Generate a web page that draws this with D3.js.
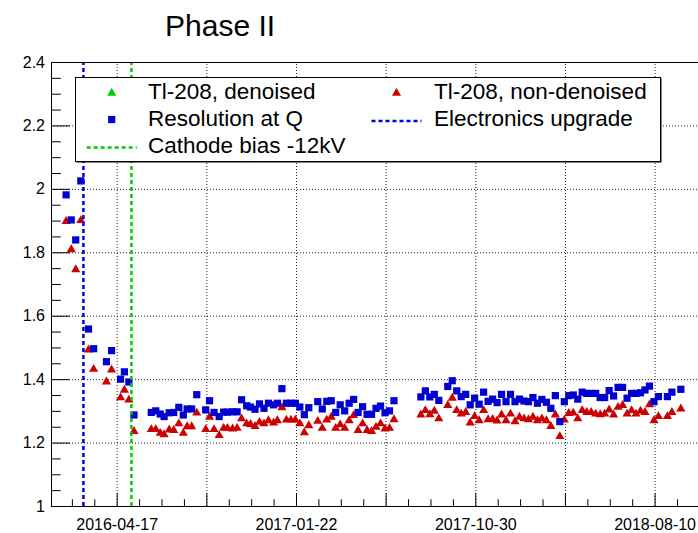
<!DOCTYPE html>
<html>
<head>
<meta charset="utf-8">
<script src="https://cdn.jsdelivr.net/npm/d3@7"></script>
<style>
  body { margin: 0; background: #fff; }
  svg { display: block; font-family: "Liberation Sans", Arial, Helvetica, sans-serif; }
</style>
</head>
<body>
<svg id="chart" width="698" height="533"></svg>
<script>
// Measurement day, counted in days from 2016-04-17
const day = [
  -79, -71, -64, -56, -44, -36, -16, -8, 6, 12, 19, 27,
  54, 61, 68, 74, 82, 89, 97, 104, 110, 117, 125,
  139, 145, 152, 160, 167, 173, 181, 188, 195, 203, 209, 216, 223, 230, 237, 245, 251, 258, 265, 272, 279, 286, 293, 300,
  314, 321, 328, 335, 342, 349, 356, 363, 370, 377, 384, 391, 398, 405, 412, 419, 426, 433,
  475, 482, 489, 496, 503,
  517, 524, 531, 538, 545, 552, 559, 566, 573, 580, 587, 594, 601, 608, 615, 622, 629, 636, 643, 650,
  657, 664, 671, 678, 685, 692, 699, 706, 713, 720, 727, 734, 741, 748, 755, 762, 769, 776, 783, 790,
  797, 804, 811, 818, 825, 832, 839, 846,
  860, 867, 881
];

// Resolution at Q (blue squares)
const resolutionAtQ = [
  1.981, 1.902, 1.839, 2.025, 1.558, 1.496, 1.455, 1.490, 1.400, 1.423, 1.391, 1.287,
  1.295, 1.300, 1.290, 1.282, 1.294, 1.295, 1.311, 1.287, 1.306, 1.306, 1.351,
  1.303, 1.332, 1.295, 1.282, 1.296, 1.296, 1.297, 1.297, 1.335, 1.316, 1.312, 1.305, 1.322, 1.308, 1.324, 1.319, 1.324, 1.370, 1.324, 1.324, 1.324, 1.312, 1.288, 1.310,
  1.329, 1.306, 1.330, 1.332, 1.295, 1.319, 1.300, 1.324, 1.336, 1.295, 1.313, 1.289, 1.289, 1.308, 1.315, 1.294, 1.300, 1.332,
  1.344, 1.363, 1.344, 1.352, 1.333,
  1.377, 1.395, 1.363, 1.345, 1.352, 1.319, 1.340, 1.321, 1.359, 1.330, 1.337, 1.326, 1.352, 1.329, 1.352, 1.329, 1.337, 1.331, 1.329, 1.342,
  1.324, 1.336, 1.327, 1.308, 1.348, 1.266, 1.329, 1.348, 1.350, 1.337, 1.359, 1.355, 1.355, 1.355, 1.342, 1.342, 1.364, 1.347, 1.374, 1.374,
  1.340, 1.355, 1.355, 1.357, 1.366, 1.378, 1.329, 1.345,
  1.345, 1.359, 1.368
];

// Tl-208 peak, non-denoised (red triangles)
const tl208NonDenoised = [
  1.899, 1.810, 1.747, 1.902, 1.494, 1.433, 1.393, 1.431, 1.343, 1.367, 1.336, 1.237,
  1.243, 1.243, 1.231, 1.227, 1.242, 1.240, 1.261, 1.231, 1.252, 1.252, 1.295,
  1.243, 1.282, 1.243, 1.224, 1.247, 1.247, 1.245, 1.247, 1.277, 1.261, 1.259, 1.253, 1.266, 1.261, 1.271, 1.264, 1.271, 1.312, 1.273, 1.273, 1.273, 1.261, 1.233, 1.255,
  1.269, 1.247, 1.273, 1.282, 1.247, 1.258, 1.247, 1.271, 1.287, 1.240, 1.261, 1.240, 1.237, 1.250, 1.261, 1.245, 1.247, 1.274,
  1.289, 1.303, 1.290, 1.301, 1.277,
  1.319, 1.342, 1.303, 1.292, 1.297, 1.264, 1.284, 1.271, 1.303, 1.274, 1.275, 1.270, 1.289, 1.271, 1.292, 1.268, 1.282, 1.277, 1.274, 1.282,
  1.271, 1.277, 1.271, 1.253, 1.289, 1.221, 1.273, 1.294, 1.295, 1.277, 1.303, 1.297, 1.297, 1.292, 1.290, 1.292, 1.305, 1.289, 1.313, 1.319,
  1.292, 1.303, 1.292, 1.301, 1.297, 1.321, 1.271, 1.284,
  1.284, 1.297, 1.308
];

// Tl-208 peak, denoised (no points in this phase)
const tl208Denoised = [];

// Detector changes, as vertical markers
const eventDay = [-52, 23];
const eventName = ["Electronics upgrade", "Cathode bias -12kV"];

// Axes
const xDomain = [-102.6, 910.9];
const xMajorDay = [0, 140, 280, 420, 560, 700, 840];
const xTickLabel = ["2016-04-17", "", "2017-01-22", "", "2017-10-30", "", "2018-08-10"];
const yDomain = [1, 2.4];
const yMajor = [1, 1.2, 1.4, 1.6, 1.8, 2, 2.2, 2.4];
const chartTitle = "Phase II";

const W = 698, H = 533;
const L = 51, T = 62, R = 700, B = 506;

const colBlue = "#0000d0", colRed = "#cc0000", colGreen = "#00cc00", colLineBlue = "#0000dd";

const x = d3.scaleLinear().domain(xDomain).range([L, R]);
const y = d3.scaleLinear().domain(yDomain).range([B, T]);

const svg = d3.select("#chart");
svg.append("rect").attr("width", W).attr("height", H).attr("fill", "#fff");

// minor tick positions
const xMinorDay = d3.range(-70, xDomain[1], 35).filter(d => !xMajorDay.includes(d) && d > xDomain[0]);
const yMinor = d3.range(0, 29).map(i => +(1 + i * 0.05).toFixed(2)).filter(v => !yMajor.some(m => Math.abs(m - v) < 1e-9));

// dotted grid
const grid = svg.append("g").attr("class", "grid");
grid.append("g")
  .attr("transform", `translate(${L},0)`)
  .call(d3.axisLeft(y).tickValues(yMajor.slice(1, -1)).tickSize(-(R - L)).tickFormat(""))
  .call(g => g.select(".domain").remove());
grid.append("g")
  .attr("transform", `translate(0,${B})`)
  .call(d3.axisBottom(x).tickValues(xMajorDay).tickSize(-(B - T)).tickFormat(""))
  .call(g => g.select(".domain").remove());

// data points
const plot = svg.append("g");
const tri = d3.symbol(d3.symbolTriangle, 36);
const sq = d3.symbol(d3.symbolSquare, 52);

plot.append("g").selectAll("path")
  .data(day.map((d, i) => [d, tl208Denoised[i]]).filter(p => p[1] != null))
  .join("path").attr("d", tri).attr("fill", colGreen)
  .attr("transform", p => `translate(${x(p[0])},${y(p[1])})`);

plot.append("g").selectAll("path")
  .data(day.map((d, i) => [d, tl208NonDenoised[i]]))
  .join("path").attr("d", tri).attr("fill", colRed)
  .attr("transform", p => `translate(${x(p[0])},${y(p[1]) + 0.5})`);

plot.append("g").selectAll("path")
  .data(day.map((d, i) => [d, resolutionAtQ[i]]))
  .join("path").attr("d", sq).attr("fill", colBlue)
  .attr("transform", p => `translate(${x(p[0])},${y(p[1])})`);

// vertical event lines
const eventColor = [colLineBlue, colGreen];
svg.append("g").selectAll("line")
  .data(eventDay)
  .join("line")
  .attr("x1", d => x(d)).attr("x2", d => x(d))
  .attr("y1", B).attr("y2", T)
  .attr("stroke", (d, i) => eventColor[i])
  .attr("stroke-width", 2.5)
  .attr("stroke-dasharray", "4,3");

// frame
svg.append("rect")
  .attr("x", L + 0.5).attr("y", T + 0.5)
  .attr("width", R - L).attr("height", B - T)
  .attr("fill", "none").attr("stroke", "#000").attr("stroke-width", 1);

// axes
const axisFont = 16;
const yAxis = svg.append("g").attr("transform", `translate(${L},0)`)
  .call(d3.axisLeft(y).tickValues(yMajor).tickSize(-19).tickSizeOuter(0).tickPadding(6).tickFormat(d3.format("~g")));
yAxis.attr("font-size", axisFont).attr("font-family", null);
svg.append("g").attr("transform", `translate(${L},0)`)
  .call(d3.axisLeft(y).tickValues(yMinor).tickSize(-9.75).tickFormat(""))
  .call(g => g.select(".domain").remove());

const xAxis = svg.append("g").attr("transform", `translate(0,${B})`)
  .call(d3.axisBottom(x).tickValues(xMajorDay).tickSize(-12.7).tickSizeOuter(0).tickPadding(13)
    .tickFormat((d, i) => xTickLabel[i]));
xAxis.attr("font-size", axisFont).attr("font-family", null);
svg.append("g").attr("transform", `translate(0,${B})`)
  .call(d3.axisBottom(x).tickValues(xMinorDay).tickSize(-6.7).tickFormat(""))
  .call(g => g.select(".domain").remove());

svg.selectAll(".tick text").attr("fill", "#000");
svg.selectAll(".tick line, .domain").attr("stroke", "#000");
grid.selectAll("line").attr("stroke", "#222").attr("stroke-dasharray", "1,2");

// legend
const lg = svg.append("g");
const lx = 75, ly = 77, lw = 585, lh = 84;
lg.append("rect").attr("x", lx + 1.5).attr("y", ly + 1.5).attr("width", lw).attr("height", lh).attr("fill", "#000");
lg.append("rect").attr("x", lx + 0.5).attr("y", ly + 0.5).attr("width", lw).attr("height", lh)
  .attr("fill", "#fff").attr("stroke", "#000").attr("stroke-width", 1);

const legendItems = [
  { kind: "tri", color: colGreen, text: "Tl-208, denoised", col: 0, row: 0 },
  { kind: "tri", color: colRed, text: "Tl-208, non-denoised", col: 1, row: 0 },
  { kind: "sq", color: colBlue, text: "Resolution at Q", col: 0, row: 1 },
  { kind: "line", color: colLineBlue, text: eventName[0], col: 1, row: 1 },
  { kind: "line", color: colGreen, text: eventName[1], col: 0, row: 2 }
];
const colMarkX = [111.7, 396.5], colTextX = [148, 434];
const rowMarkY = [93, 119.5, 146], rowTextY = [98.5, 125.5, 152.5];

legendItems.forEach(it => {
  const mx = colMarkX[it.col], my = rowMarkY[it.row];
  if (it.kind === "tri") {
    lg.append("path").attr("d", tri).attr("fill", it.color).attr("transform", `translate(${mx},${my})`);
  } else if (it.kind === "sq") {
    lg.append("path").attr("d", sq).attr("fill", it.color).attr("transform", `translate(${mx},${my})`);
  } else {
    lg.append("line").attr("x1", mx - 25).attr("x2", mx + 25).attr("y1", my + 1.5).attr("y2", my + 1.5)
      .attr("stroke", it.color).attr("stroke-width", 2.5).attr("stroke-dasharray", "4,3");
  }
  lg.append("text").attr("x", colTextX[it.col]).attr("y", rowTextY[it.row])
    .attr("font-size", 22.5).attr("fill", "#000").text(it.text);
});

// title
svg.append("text").attr("x", 165).attr("y", 36).attr("font-size", 30).attr("fill", "#000").text(chartTitle);
</script>
</body>
</html>
